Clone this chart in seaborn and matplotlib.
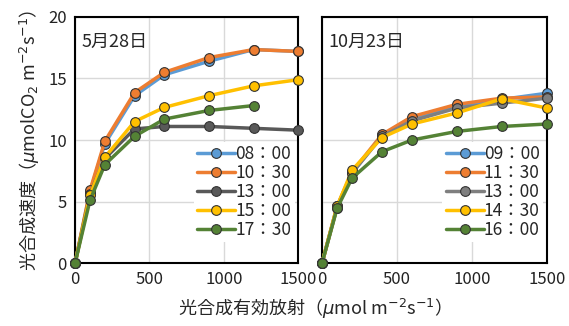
import numpy as np
import pandas as pd
import matplotlib.pyplot as plt
import seaborn as sns

# PAR (umol m-2 s-1)
par = [0, 100, 200, 400, 600, 900, 1200, 1500]

# May 28
may_times = ['08：00', '10：30', '13：00', '15：00', '17：30']
may_0800 = [0, 5.8, 9.7, 13.6, 15.3, 16.4, 17.35, 17.2]
may_1030 = [0, 5.9, 9.9, 13.85, 15.5, 16.7, 17.35, 17.2]
may_1300 = [0, 5.6, 8.5, 10.9, 11.1, 11.1, 10.95, 10.8]
may_1500 = [0, 5.5, 8.6, 11.5, 12.65, 13.6, 14.4, 14.9]
may_1730 = [0, 5.1, 8.0, 10.3, 11.7, 12.4, 12.8, np.nan]

# Oct 23
oct_times = ['09：00', '11：30', '13：00', '14：30', '16：00']
oct_0900 = [0, 4.6, 7.3, 10.4, 11.7, 12.7, 13.3, 13.8]
oct_1130 = [0, 4.6, 7.4, 10.45, 11.9, 12.9, 13.4, 13.5]
oct_1300 = [0, 4.5, 7.3, 10.3, 11.55, 12.6, 13.0, 13.4]
oct_1430 = [0, 4.6, 7.55, 10.2, 11.3, 12.2, 13.35, 12.6]
oct_1600 = [0, 4.45, 6.9, 9.05, 10.0, 10.7, 11.1, 11.3]

may_colors = ['#5B9BD5', '#ED7D31', '#595959', '#FFC000', '#548235']
oct_colors = ['#5B9BD5', '#ED7D31', '#7F7F7F', '#FFC000', '#548235']

sns.set_style('white')
plt.rcParams['font.family'] = ['Noto Sans CJK JP', 'DejaVu Sans']
plt.rcParams['mathtext.fontset'] = 'dejavusans'

fig = plt.figure(figsize=(5.69, 3.26), dpi=100)
ax1 = fig.add_axes([0.132, 0.193, 0.392, 0.755])
ax2 = fig.add_axes([0.566, 0.193, 0.395, 0.755])


def draw(ax, times, series, colors, title):
    for t, vals, c in zip(times, series, colors):
        df = pd.DataFrame({'par': par, 'rate': vals}).dropna()
        sns.lineplot(data=df, x='par', y='rate', ax=ax, color=c, lw=2.5,
                     marker='o', markersize=7, markeredgecolor='#333333',
                     markeredgewidth=0.8, label=t, clip_on=False, zorder=3)
    ax.set_xlim(0, 1500)
    ax.set_ylim(0, 20)
    ax.set_xticks([0, 500, 1000, 1500])
    ax.set_yticks([0, 5, 10, 15, 20])
    ax.grid(True, color='#D9D9D9', lw=1)
    ax.set_axisbelow(True)
    for s in ax.spines.values():
        s.set_color('black')
        s.set_linewidth(1.5)
    ax.tick_params(labelsize=12, length=0, pad=6, labelcolor='#222222')
    ax.set_xlabel('')
    ax.set_ylabel('')
    ax.text(0.03, 0.88, title, transform=ax.transAxes, fontsize=13)
    leg = ax.legend(loc='lower right', bbox_to_anchor=(1.0, 0.07), fontsize=12.5,
                    frameon=True, framealpha=1, edgecolor='none', facecolor='white',
                    handlelength=2.2, handletextpad=0.0, labelspacing=0.05,
                    borderpad=0.2, borderaxespad=0.2)
    leg.set_zorder(2)


draw(ax1, may_times, [may_0800, may_1030, may_1300, may_1500, may_1730], may_colors, '5月28日')
draw(ax2, oct_times, [oct_0900, oct_1130, oct_1300, oct_1430, oct_1600], oct_colors, '10月23日')
ax2.set_yticklabels([])

ax1.set_ylabel('光合成速度（$\\mu$molCO$_2$ m$^{-2}$s$^{-1}$）', fontsize=13, labelpad=4)
fig.text(0.545, 0.015, '光合成有効放射（$\\mu$mol m$^{-2}$s$^{-1}$）', ha='center', va='bottom', fontsize=13)

fig.savefig('out.png', dpi=100)
